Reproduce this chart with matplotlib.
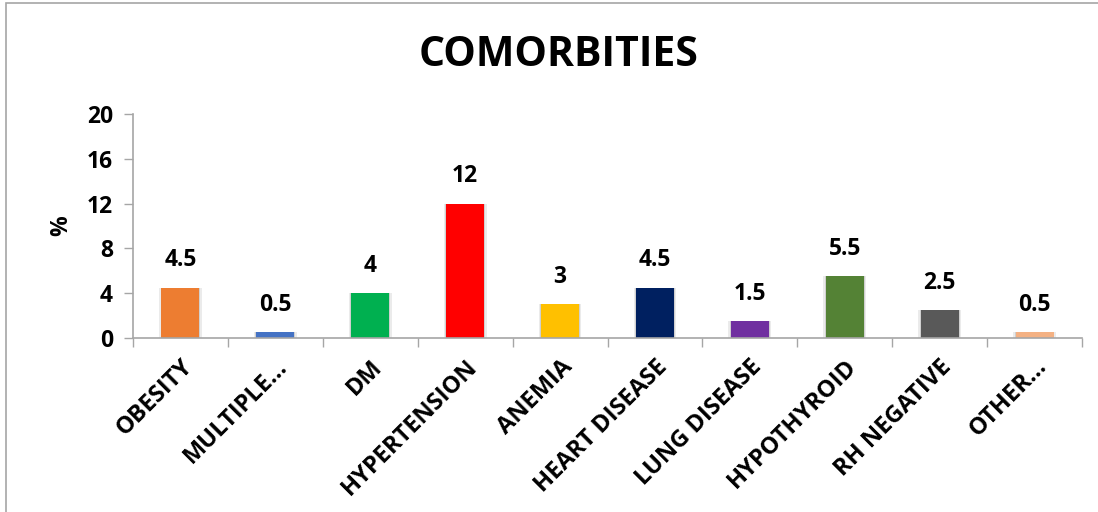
import matplotlib.pyplot as plt
from matplotlib.patches import Rectangle

categories = ['OBESITY', 'MULTIPLE...', 'DM', 'HYPERTENSION', 'ANEMIA',
              'HEART DISEASE', 'LUNG DISEASE', 'HYPOTHYROID', 'RH NEGATIVE', 'OTHER...']
values = [4.5, 0.5, 4, 12, 3, 4.5, 1.5, 5.5, 2.5, 0.5]
value_labels = ['4.5', '0.5', '4', '12', '3', '4.5', '1.5', '5.5', '2.5', '0.5']
colors = ['#ED7D31', '#4472C4', '#00B050', '#FF0000', '#FFC000',
          '#002060', '#7030A0', '#548235', '#595959', '#F4B183']
yticks = [0, 4, 8, 12, 16, 20]

plt.rcParams['font.family'] = ['Open Sans', 'DejaVu Sans']
plt.rcParams['font.weight'] = 'bold'

fig = plt.figure(figsize=(10.98, 5.12), dpi=100)
W, H = 1098, 512
ax = fig.add_axes([133 / W, 1 - 338 / H, (1082 - 133) / W, (338 - 114) / H])

# outer chart frame
fig.patches.append(Rectangle((6 / W, -0.1), 1.2, 1 - 3 / H + 0.1, transform=fig.transFigure,
                             fill=False, edgecolor='#a6a6a6', linewidth=1.2))

x = list(range(len(categories)))
# soft shadow behind bars
ax.bar(x, values, width=0.45, color='#e3e3e3', alpha=0.7, zorder=1)
ax.bar(x, values, width=0.42, color='#bfbfbf', alpha=0.6, zorder=1)
ax.bar(x, values, width=0.4, color=colors, zorder=2)

for xi, v, lab in zip(x, values, value_labels):
    ax.annotate(lab, (xi, v), xytext=(0, 11), textcoords='offset points',
                ha='center', va='bottom', fontsize=16.5, fontweight='bold')

ax.set_xlim(-0.5, len(categories) - 0.5)
ax.set_ylim(0, 20)
ax.set_yticks(yticks)
ax.set_yticklabels([str(t) for t in yticks], fontsize=16.5, fontweight='bold')
ax.tick_params(axis='y', length=6.5, width=1, color='#a6a6a6', pad=8)

ax.set_xticks([i - 0.5 for i in range(len(categories) + 1)])
ax.set_xticklabels([])
ax.tick_params(axis='x', which='major', length=6.5, width=1, color='#a6a6a6', direction='out')
ax.set_xticks(x, minor=True)
ax.set_xticklabels(categories, minor=True, rotation=45, ha='right', rotation_mode='anchor',
                   fontsize=17, fontweight='bold')
ax.tick_params(axis='x', which='minor', length=0, pad=12)

for s in ['top', 'right']:
    ax.spines[s].set_visible(False)
for s in ['left', 'bottom']:
    ax.spines[s].set_color('#a6a6a6')
    ax.spines[s].set_linewidth(1.2)

ax.set_ylabel('%', fontsize=16.5, fontweight='bold', labelpad=10)
fig.text(559 / W, 1 - 55 / H, 'COMORBITIES', ha='center', va='center',
         fontsize=29.5, fontweight='bold')

fig.savefig('out.png', dpi=100)
